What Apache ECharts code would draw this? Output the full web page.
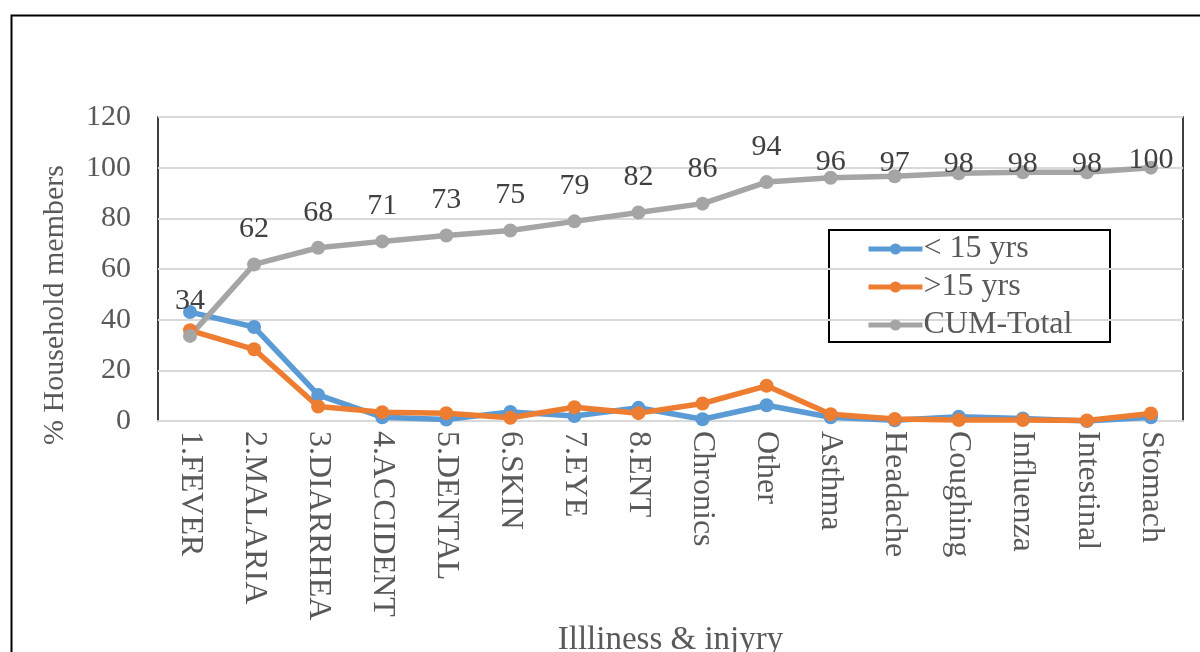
<!DOCTYPE html>
<html>
<head>
<meta charset="utf-8">
<script src="https://cdn.jsdelivr.net/npm/echarts@6/dist/echarts.min.js"></script>
<style>
  html, body { margin: 0; padding: 0; background: #fff; }
  #chart { width: 1200px; height: 652px; }
</style>
</head>
<body>
<div id="chart"></div>
<script>
// Illness & injury categories
const categories = ['1.FEVER', '2.MALARIA', '3.DIARRHEA', '4.ACCIDENT', '5.DENTAL', '6.SKIN', '7.EYE', '8.ENT',
  'Chronics', 'Other', 'Asthma', 'Headache', 'Coughing', 'Influenza', 'Intestinal', 'Stomach'];

// % of household members, by age group
const under15 = [43.0, 37.1, 10.3, 1.5, 0.6, 3.6, 2.0, 5.2, 0.7, 6.2, 1.5, 0.3, 1.7, 1.0, 0.0, 1.5];
const over15 = [35.8, 28.3, 5.7, 3.5, 3.1, 1.3, 5.4, 3.1, 6.9, 13.9, 2.7, 0.8, 0.4, 0.4, 0.2, 3.0];

// cumulative total %
const cumTotal = [33.6, 61.8, 68.4, 70.9, 73.2, 75.2, 78.8, 82.3, 85.8, 94.3, 96.0, 96.6, 97.8, 98.2, 98.2, 100];

// y-axis ticks
const yTicks = [0, 20, 40, 60, 80, 100, 120];

const seriesNames = ['< 15 yrs', '>15 yrs', 'CUM-Total'];
const colors = ['#5B9BD5', '#ED7D31', '#A5A5A5'];

// value labels near the top are nudged down so they sit close to the line
const labelNudge = [0, 0, 0, 0, 0, 0, 0, 0, 0, 0, 19, 22, 26, 27, 27, 27];

const serif = '"Liberation Serif", "Times New Roman", serif';
const textGray = '#595959';

const chart = echarts.init(document.getElementById('chart'), null, { renderer: 'canvas' });

function lineSeries(name, data, color, extra) {
  return Object.assign({
    name: name,
    type: 'line',
    data: data,
    symbol: 'circle',
    symbolSize: 14,
    lineStyle: { color: color, width: 5.5 },
    itemStyle: { color: color },
    emphasis: { disabled: true },
    animation: false
  }, extra || {});
}

const cumItems = cumTotal.map(function (v, i) {
  return labelNudge[i] ? { value: v, label: { offset: [0, labelNudge[i]] } } : v;
});

chart.setOption({
  animation: false,
  backgroundColor: '#fff',
  color: colors,
  grid: {
    left: 158, right: 17, top: 117, bottom: 231,
    outerBoundsMode: 'none',
    containLabel: false,
    show: true,
    borderColor: '#000',
    borderWidth: 1.5,
    backgroundColor: 'transparent'
  },
  legend: {
    orient: 'vertical',
    left: 866,
    top: 233,
    padding: 0,
    itemGap: 6,
    itemWidth: 54,
    itemHeight: 14,
    z: 10,
    data: seriesNames,
    lineStyle: { width: 5 },
    textStyle: { fontFamily: serif, fontSize: 32, lineHeight: 30, color: textGray, padding: [0, 0, 0, -4] }
  },
  xAxis: {
    type: 'category',
    data: categories,
    boundaryGap: true,
    axisLine: { show: true, lineStyle: { color: '#D9D9D9', width: 2 } },
    axisTick: { show: false },
    axisLabel: {
      rotate: -90,
      margin: 10,
      interval: 0,
      fontFamily: serif,
      fontSize: 32,
      color: textGray
    },
    name: 'Illliness & injyry',
    nameLocation: 'middle',
    nameGap: 200,
    nameTextStyle: { fontFamily: serif, fontSize: 33, color: textGray }
  },
  yAxis: {
    type: 'value',
    min: yTicks[0],
    max: yTicks[yTicks.length - 1],
    interval: 20,
    axisLine: { show: false },
    axisTick: { show: false },
    splitLine: { show: true, lineStyle: { color: '#D9D9D9', width: 2 } },
    axisLabel: {
      margin: 27,
      fontFamily: serif,
      fontSize: 30,
      color: textGray
    }
  },
  graphic: {
    z: 5,
    elements: [
      {
        type: 'rect',
        left: 9, top: 13,
        z: -100,
        shape: { width: 1230, height: 700 },
        style: { fill: 'none', stroke: '#000', lineWidth: 2 },
        silent: true
      },
      {
        type: 'rect',
        left: 828, top: 229,
        shape: { width: 281, height: 112 },
        style: { fill: '#fff', stroke: '#000', lineWidth: 2 },
        silent: true
      },
      {
        type: 'text',
        x: 55, y: 305,
        rotation: Math.PI / 2,
        style: {
          text: '% Household members',
          fontFamily: serif, fontSize: 30, fill: textGray,
          align: 'center', verticalAlign: 'middle'
        }
      }
    ]
  },
  series: [
    lineSeries(seriesNames[0], under15, colors[0]),
    lineSeries(seriesNames[1], over15, colors[1]),
    lineSeries(seriesNames[2], cumItems, colors[2], {
      label: {
        show: true,
        position: 'top',
        distance: 13,
        fontFamily: serif,
        fontSize: 30,
        color: '#404040',
        formatter: function (p) { return Math.round(p.value); }
      }
    })
  ]
});
</script>
</body>
</html>
